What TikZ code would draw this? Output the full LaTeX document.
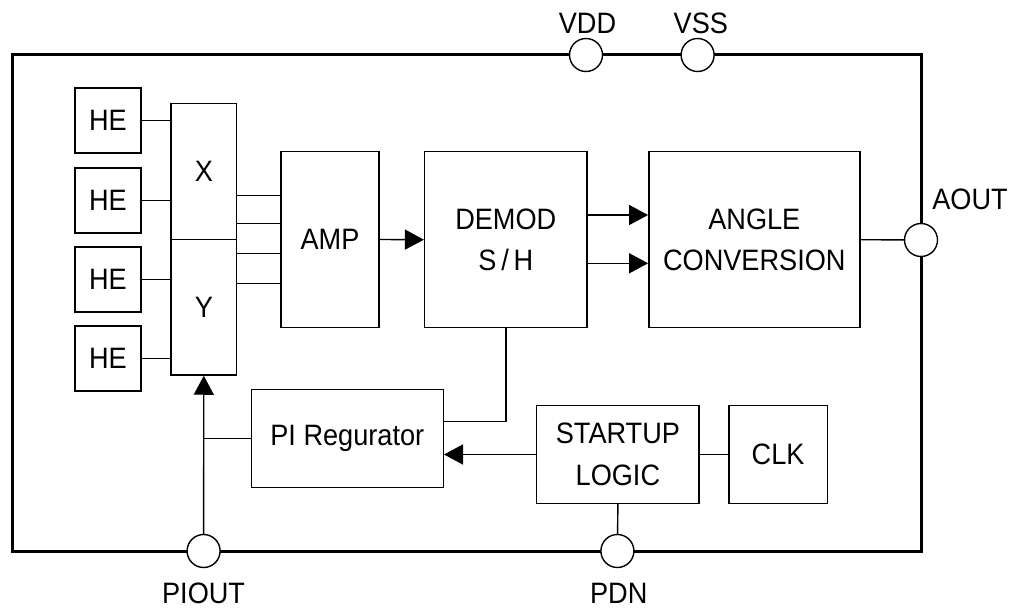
\documentclass[tikz,border=0pt]{standalone}
\usepackage{fontspec}
\setmainfont{Liberation Sans}[FakeStretch=0.92]
\usetikzlibrary{arrows.meta}
\begin{document}
\begin{tikzpicture}[x=1pt,y=-1pt,
  blk/.style={draw,line width=1.4pt,inner sep=0pt,font=\fontsize{29.5}{41.5}\selectfont,align=center},
  pin/.style={draw,line width=1.4pt,fill=white,circle,minimum size=33pt,inner sep=0pt},
  lbl/.style={font=\fontsize{29.5}{34}\selectfont,inner sep=0pt},
  wire/.style={line width=1.4pt},
  arr/.style={wire,-{Triangle[length=19pt,width=20pt]}}]
\useasboundingbox (0,0) rectangle (1012,609);
% outer frame
\draw[line width=3pt] (12,55) rectangle (921,551);
% blocks
\node[blk,minimum width=66pt,minimum height=65pt] (he1) at (108,120.5) {HE};
\node[blk,minimum width=66pt,minimum height=65pt] (he2) at (108,200.5) {HE};
\node[blk,minimum width=66pt,minimum height=65pt] (he3) at (108,279.7) {HE};
\node[blk,minimum width=66pt,minimum height=65pt] (he4) at (108,358.7) {HE};
\node[blk,minimum width=65.7pt,minimum height=136pt] (xb) at (203.8,171.3) {X};
\node[blk,minimum width=65.7pt,minimum height=135.7pt] (yb) at (203.8,307.2) {Y};
\node[blk,minimum width=98pt,minimum height=175.6pt] (amp) at (330,239.5) {AMP};
\node[blk,minimum width=162.4pt,minimum height=176pt] (demod) at (505.8,239.7) {DEMOD\\S\,/\,H};
\node[blk,minimum width=211pt,minimum height=176pt] (angle) at (754.3,239.7) {ANGLE\\CONVERSION};
\node[blk,minimum width=192pt,minimum height=98.4pt] (pi) at (347.3,438.5) {PI Regurator};
\node[blk,minimum width=162.5pt,minimum height=97.6pt] (startup) at (617.9,454.5) {STARTUP\\LOGIC};
\node[blk,minimum width=98.2pt,minimum height=97.6pt] (clk) at (778.1,454.5) {CLK};
% pins
\node[pin] (vdd) at (586,55) {};
\node[pin] (vss) at (697.6,55) {};
\node[pin] (aout) at (921,240) {};
\node[pin] (piout) at (203.6,551) {};
\node[pin] (pdn) at (617.4,551) {};
\node[lbl] (vddl) at (587.5,23) {VDD};
\node[lbl] (vssl) at (700.8,23) {VSS};
\node[lbl] (aoutl) at (970,199) {AOUT};
\node[lbl] (pioutl) at (203.6,593) {PIOUT};
\node[lbl] (pdnl) at (618.7,593) {PDN};
% HE to X/Y
\foreach \h/\t in {he1/xb,he2/xb,he3/yb,he4/yb}
  \draw[wire] (\h.east) -- (\h.east -| \t.west);
% X/Y to AMP
\foreach \s/\n in {43.8/a1,16.2/a2,-13.8/a3,-44.2/a4}{
  \coordinate (\n) at ([yshift=\s pt]amp.west);
  \draw[wire] (\n -| xb.east) -- (\n);
}
% AMP to DEMOD
\draw[arr] (amp.east) -- (demod.west);
% DEMOD to ANGLE
\coordinate (d1) at ([yshift=24.7pt]demod.east);
\coordinate (d2) at ([yshift=-23.6pt]demod.east);
\draw[arr] (d1) -- (d1 -| angle.west);
\draw[arr] (d2) -- (d2 -| angle.west);
% ANGLE to AOUT
\draw[wire] (angle.east) -- (aout);
% DEMOD to PI
\coordinate (p1) at ([yshift=16.8pt]pi.east);
\draw[wire] (demod.south) |- (p1);
% STARTUP to PI
\draw[arr] (startup.west) -- (startup.west -| pi.east);
% STARTUP to CLK
\draw[wire] (startup) -- (clk);
% STARTUP to PDN
\draw[wire] (startup.south) -- (pdn);
% PIOUT to Y, PI to vertical
\draw[arr] (piout) -- (yb.south);
\draw[wire] (pi.west) -- (pi.west -| piout);
\end{tikzpicture}
\end{document}
